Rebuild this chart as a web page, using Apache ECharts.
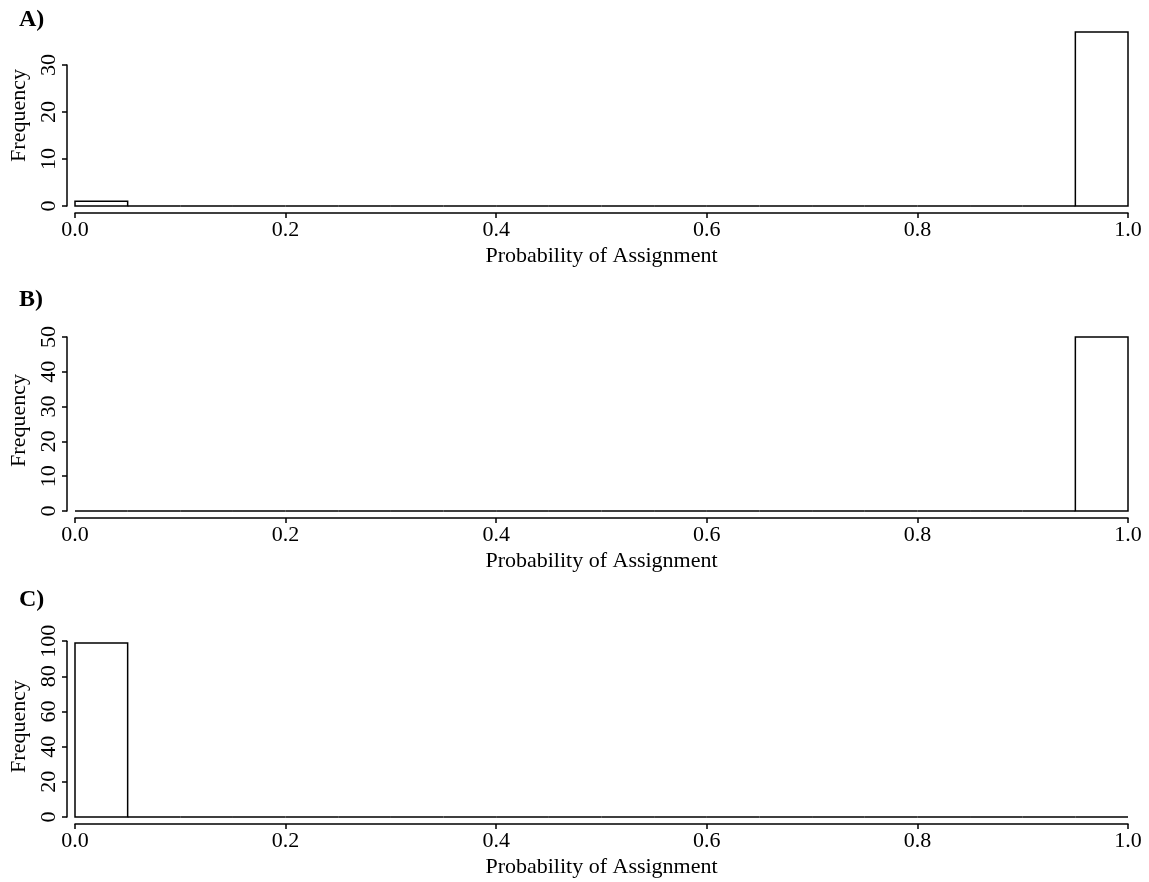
<!DOCTYPE html>
<html><head><meta charset="utf-8">
<script src="https://cdn.jsdelivr.net/npm/echarts@6/dist/echarts.min.js"></script>
<style>html,body{margin:0;padding:0;background:#fff}#c{width:1149px;height:882px}</style>
</head><body><div id="c"></div>
<script>
// Bin edges (histogram breaks)
const binStarts = [0.00,0.05,0.10,0.15,0.20,0.25,0.30,0.35,0.40,0.45,0.50,0.55,0.60,0.65,0.70,0.75,0.80,0.85,0.90,0.95];
const binEnds   = [0.05,0.10,0.15,0.20,0.25,0.30,0.35,0.40,0.45,0.50,0.55,0.60,0.65,0.70,0.75,0.80,0.85,0.90,0.95,1.00];
// Frequencies per bin
const countsA = [1,0,0,0,0,0,0,0,0,0,0,0,0,0,0,0,0,0,0,37];
const countsB = [0,0,0,0,0,0,0,0,0,0,0,0,0,0,0,0,0,0,0,50];
const countsC = [99,0,0,0,0,0,0,0,0,0,0,0,0,0,0,0,0,0,0,0];
const panelLabels = ['A)','B)','C)'];
const yIntervals = [10,10,20];
const xTickLabels = ['0.0','0.2','0.4','0.6','0.8','1.0'];
const xTitle = 'Probability of Assignment';
const yTitle = 'Frequency';

const allCounts = [countsA,countsB,countsC];
const FONT = 'Liberation Serif';
const panelTops = [25,330,636];
const plotH = 181, left = 75, right = 21;

const grid = [], xAxis = [], yAxis = [], series = [], graphic = [];
allCounts.forEach((counts, i) => {
  const top = panelTops[i];
  const base = top + plotH;
  const maxC = Math.max(...counts);
  const yMax = maxC * 1.04;
  const iv = yIntervals[i];
  const lastTick = Math.floor(yMax / iv) * iv;
  const axTop = base - lastTick / yMax * plotH;
  grid.push({left: left, right: right, top: top, height: plotH});
  grid.push({left: left, right: right, top: axTop, height: base - axTop});
  const gd = i*2, ga = i*2+1;
  xAxis.push({
    gridIndex: gd, type: 'value', min: 0, max: 1, interval: 0.2, offset: 7,
    axisLine: {show: true, onZero: false, lineStyle: {color: '#000', width: 1.5}},
    axisTick: {show: true, length: 5, lineStyle: {color: '#000', width: 1.5}},
    axisLabel: {color: '#000', fontFamily: FONT, fontSize: 22, margin: 6,
      formatter: (v) => xTickLabels[Math.round(v / 0.2)] || ''},
    splitLine: {show: false},
    name: xTitle, nameLocation: 'middle', nameGap: 32,
    nameTextStyle: {color: '#000', fontFamily: FONT, fontSize: 22}
  });
  xAxis.push({gridIndex: ga, type: 'value', min: 0, max: 1, show: false});
  yAxis.push({
    gridIndex: gd, type: 'value', min: 0, max: yMax,
    axisLine: {show: false}, axisTick: {show: false}, axisLabel: {show: false},
    splitLine: {show: false},
    name: yTitle, nameLocation: 'middle', nameGap: 45, nameRotate: 90,
    nameTextStyle: {color: '#000', fontFamily: FONT, fontSize: 22}
  });
  yAxis.push({
    gridIndex: ga, type: 'value', min: 0, max: lastTick, interval: iv, offset: 8,
    axisLine: {show: true, onZero: false, lineStyle: {color: '#000', width: 1.5}},
    axisTick: {show: true, length: 5, lineStyle: {color: '#000', width: 1.5}},
    axisLabel: {color: '#000', fontFamily: FONT, fontSize: 22, rotate: 90, margin: 7},
    splitLine: {show: false}
  });
  series.push({
    type: 'custom', xAxisIndex: gd, yAxisIndex: gd,
    data: counts.map((c, k) => [binStarts[k], binEnds[k], c]),
    encode: {x: [0, 1], y: 2},
    clip: false,
    renderItem: (params, api) => {
      const p0 = api.coord([api.value(0), api.value(2)]);
      const p1 = api.coord([api.value(1), 0]);
      return {type: 'rect',
        shape: {x: p0[0], y: p0[1], width: p1[0] - p0[0], height: p1[1] - p0[1]},
        style: {fill: '#fff', stroke: '#000', lineWidth: 1.5}};
    }
  });
});

const labelYs = [8, 288, 588];
panelLabels.forEach((t, i) => {
  graphic.push({type: 'text', left: 19, top: labelYs[i],
    style: {text: t, fill: '#000', font: 'bold 24px "Liberation Serif"'}});
});

const chart = echarts.init(document.getElementById('c'), null, {renderer: 'canvas'});
chart.setOption({animation: false, backgroundColor: '#fff', grid, xAxis, yAxis, series, graphic});
</script></body></html>
